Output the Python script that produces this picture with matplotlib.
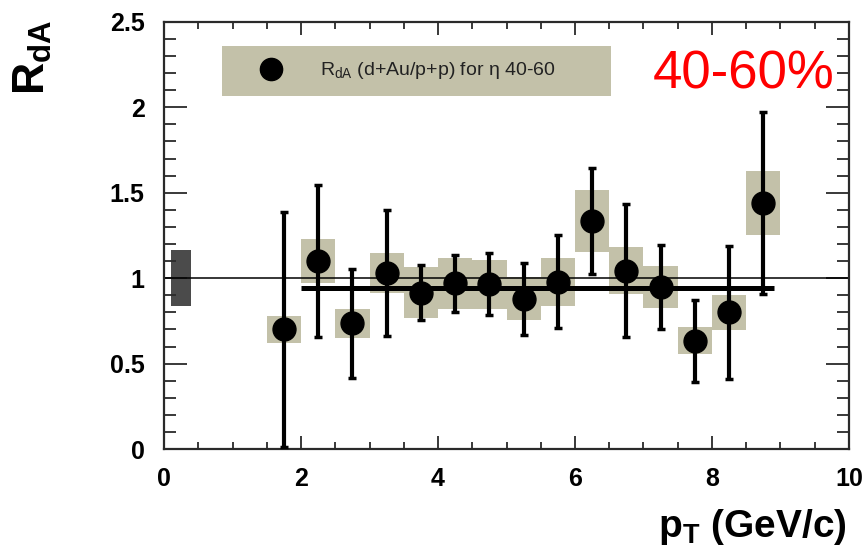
import matplotlib
matplotlib.use('Agg')
import matplotlib.pyplot as plt
from matplotlib.ticker import MultipleLocator
from matplotlib.lines import Line2D

plt.rcParams['font.family'] = ['Liberation Sans', 'DejaVu Sans']
plt.rcParams['mathtext.fontset'] = 'custom'
plt.rcParams['mathtext.rm'] = 'Liberation Sans'
plt.rcParams['mathtext.bf'] = 'Liberation Sans:bold'

# R_dA for eta 40-60 (centrality 40-60%)
pt = [1.75, 2.25, 2.75, 3.25, 3.75, 4.25, 4.75, 5.25,
      5.75, 6.25, 6.75, 7.25, 7.75, 8.25, 8.75]
rda = [0.70, 1.10, 0.735, 1.03, 0.915, 0.97, 0.965, 0.88,
       0.98, 1.335, 1.045, 0.95, 0.635, 0.80, 1.44]
stat_err = [0.69, 0.445, 0.32, 0.37, 0.16, 0.165, 0.18, 0.21,
            0.27, 0.31, 0.39, 0.245, 0.24, 0.39, 0.53]
sys_err = [0.08, 0.13, 0.087, 0.117, 0.15, 0.15, 0.143, 0.125,
           0.14, 0.18, 0.14, 0.124, 0.08, 0.104, 0.185]
bin_width = 0.5

# global normalisation uncertainty box near pT = 0
norm_pt = 0.25
norm_err = 0.165

# constant fit
fit_value = 0.94
fit_range = (2.0, 8.9)

x_ticks = [0, 2, 4, 6, 8, 10]
y_ticks = [0, 0.5, 1, 1.5, 2, 2.5]

beige = '#c3c1a9'
frame = '#2a2a2a'

fig = plt.figure(figsize=(8.65, 5.47), dpi=100)
ax = fig.add_axes([0.1896, 0.179, 0.7919, 0.781])

sys_lo = [v - s for v, s in zip(rda, sys_err)]
sys_h = [2 * s for s in sys_err]
ax.bar(pt, sys_h, bottom=sys_lo, width=bin_width, color=beige,
       linewidth=0, zorder=1)
ax.bar(norm_pt, 2 * norm_err, bottom=1 - norm_err, width=0.3,
       color='#4b4b4b', linewidth=0, zorder=1)

ax.axhline(1.0, color='black', linewidth=1.1, zorder=2)
ax.hlines(fit_value, fit_range[0], fit_range[1], color='black',
          linewidth=3.6, zorder=2)

ax.errorbar(pt, rda, yerr=stat_err, fmt='none', ecolor='black',
            elinewidth=3, capsize=3, capthick=2.5, zorder=3)
ax.plot(pt, rda, 'o', color='black', markersize=16.5, linestyle='none',
        zorder=4)

ax.set_xlim(0, 10)
ax.set_ylim(0, 2.5)
ax.set_xticks(x_ticks, [f'{t:g}' for t in x_ticks], fontsize=18,
              fontweight='bold')
ax.set_yticks(y_ticks, [f'{t:g}' for t in y_ticks], fontsize=18,
              fontweight='bold')
ax.xaxis.set_minor_locator(MultipleLocator(0.5))
ax.yaxis.set_minor_locator(MultipleLocator(0.1))

ax.tick_params(axis='both', which='both', direction='in', top=True,
               right=True, color=frame, width=1.3)
ax.tick_params(axis='x', which='major', length=9.5, pad=13)
ax.tick_params(axis='x', which='minor', length=5)
ax.tick_params(axis='y', which='major', length=16.5, pad=14)
ax.tick_params(axis='y', which='minor', length=8.5)
for sp in ax.spines.values():
    sp.set_color(frame)
    sp.set_linewidth(1.6)

ax.set_xlabel(r'$\mathbf{p_T}$ (GeV/c)', fontsize=28, fontweight='bold',
              loc='right')
ax.xaxis.set_label_coords(0.996, -0.135)
ax.set_ylabel(r'$\mathbf{R_{dA}}$', fontsize=32, loc='top')
ax.yaxis.set_label_coords(-0.16, 1.005)

handle = Line2D([], [], marker='o', color='black', markersize=16,
                linestyle='none')
leg = ax.legend([handle], ['R$_{\\rm dA}$ (d+Au/p+p) for η 40-60'],
                loc='upper left', bbox_to_anchor=(0.0845, 0.831, 0.5685, 0.113),
                mode='expand', borderaxespad=0, borderpad=0.75,
                handlelength=3.6, handletextpad=0.7, fontsize=14,
                frameon=True, fancybox=False, facecolor=beige,
                edgecolor='none', framealpha=1)
for txt in leg.get_texts():
    txt.set_color('#222222')

ax.text(0.713, 0.843, '40-60%', color='red', fontsize=38,
        transform=ax.transAxes, ha='left', va='baseline')

fig.savefig('out.png', dpi=100)
